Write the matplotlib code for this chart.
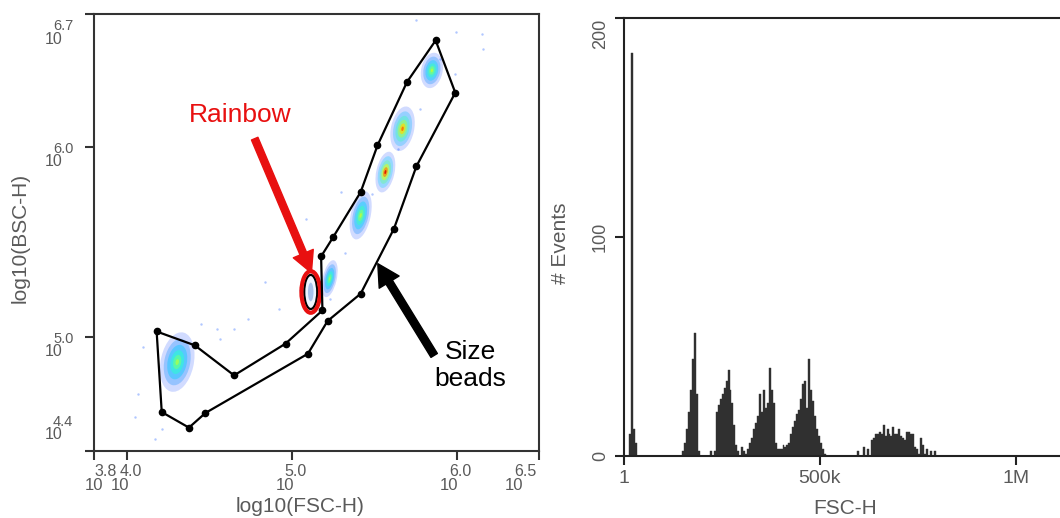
"""
Flow cytometry bead panel: BSC vs FSC gate plot and FSC-H histogram.
"""

import matplotlib
matplotlib.use("Agg")
import matplotlib.pyplot as plt
from matplotlib.patches import Ellipse, Polygon

plt.rcParams["font.family"] = ["Liberation Sans", "DejaVu Sans"]

# ── Data: left panel (log10 units) ──────────────────────────────────────────
fsc_ticks = [3.8, 4.0, 5.0, 6.0, 6.5]
bsc_ticks = [4.4, 5.0, 6.0, 6.7]

# gate polygon vertices
gate_fsc = [4.180, 4.412, 4.650, 4.962, 5.186, 5.178, 5.250, 5.418, 5.520, 5.699,
            5.873, 5.992, 5.756, 5.620, 5.418, 5.217, 5.098, 4.476, 4.376, 4.211]
gate_bsc = [5.029, 4.956, 4.798, 4.965, 5.140, 5.424, 5.524, 5.763, 6.008, 6.342,
            6.561, 6.286, 5.898, 5.570, 5.228, 5.084, 4.912, 4.600, 4.523, 4.605]

# size-bead populations: centre, spread and peak density (0-1 on jet)
bead_fsc = [4.305, 5.230, 5.418, 5.568, 5.672, 5.850]
bead_bsc = [4.868, 5.307, 5.640, 5.868, 6.096, 6.403]
bead_w = [0.20, 0.085, 0.12, 0.11, 0.14, 0.13]
bead_h = [0.32, 0.20, 0.26, 0.22, 0.24, 0.19]
bead_peak = [0.55, 0.55, 0.58, 0.92, 0.80, 0.58]

# rainbow bead population
rainbow_fsc, rainbow_bsc = 5.115, 5.237
rainbow_w, rainbow_h = 0.113, 0.219

# stray events outside the populations
stray_fsc = [4.545, 4.648, 4.564, 4.733, 4.836, 4.921, 5.085, 5.297, 5.756, 5.994,
             6.152, 6.162, 4.067, 4.048, 4.170, 4.212, 5.321, 5.485, 5.642, 5.776,
             5.897, 5.988, 5.230, 4.10, 4.45, 5.05]
stray_bsc = [5.044, 5.044, 4.991, 5.096, 5.291, 5.149, 5.623, 5.765, 6.666, 6.607,
             6.597, 6.517, 4.702, 4.581, 4.465, 4.517, 5.440, 5.755, 5.991, 6.202,
             6.465, 6.386, 5.200, 4.95, 5.07, 5.25]

# ── Data: right panel (histogram, 5k bins) ──────────────────────────────────
bin_width = 5000
fsc_xticks = [0, 500000, 1000000]
fsc_xlabels = ["1", "500k", "1M"]
events_ticks = [0, 100, 200]

peak_starts = [15000, 150000, 220000, 300000, 410000, 595000]
peak_counts = [
    [10, 184, 12, 6],
    [2, 6, 12, 20, 30, 44, 56, 28, 2],
    [2, 0, 2, 20, 23, 26, 28, 31, 34, 39, 30, 24, 14, 5, 2],
    [4, 2, 1, 3, 6, 8, 12, 15, 18, 28, 20, 30, 22, 24, 40, 30, 24, 6, 3, 3, 3, 5],
    [4, 5, 6, 10, 13, 16, 19, 21, 26, 33, 34, 22, 44, 30, 25, 18, 12, 9, 6, 3, 1],
    [2, 0, 0, 4, 0, 3, 0, 7, 8, 10, 10, 11, 10, 14, 9, 12, 10, 9, 13, 10,
     10, 12, 9, 8, 7, 11, 11, 10, 10, 4, 3, 1, 8, 5, 1, 3, 0, 2, 0, 2],
]

# ── Figure ─────────────────────────────────────────────────────────────────
W, H = 1060, 518
fig = plt.figure(figsize=(W / 100, H / 100), dpi=100)
PT = 0.72  # points per pixel
GREY = "#5a5a5a"
AX = "#333333"

ax1 = fig.add_axes([94 / W, 1 - 451 / H, 445 / W, 437 / H])
ax2 = fig.add_axes([623.5 / W, 1 - 455.7 / H, 442.5 / W, 437.4 / H])

# ── Left: gate plot ────────────────────────────────────────────────────────
ax1.set_xlim(3.8, 6.5)
ax1.set_ylim(4.4, 6.7)
for sp in ax1.spines.values():
    sp.set_color(AX)
    sp.set_linewidth(1.5)
ax1.set_xticks(fsc_ticks)
ax1.set_yticks(bsc_ticks)
ax1.tick_params(direction="out", length=6.5, width=1.5, color=AX,
                labelbottom=False, labelleft=False)

jet = plt.get_cmap("jet")
ax1.scatter(stray_fsc, stray_bsc, s=3, color="#8fb0ff", alpha=0.7, lw=0, zorder=1)

levels = [1.0, 0.78, 0.58, 0.4, 0.24, 0.1]
alphas = [0.18, 0.28, 0.4, 0.55, 0.7, 0.85]
for fx, by, w, h, pk in zip(bead_fsc, bead_bsc, bead_w, bead_h, bead_peak):
    for i, (f, a) in enumerate(zip(levels, alphas)):
        c = jet(0.18 + (pk - 0.18) * i / (len(levels) - 1))
        ax1.add_patch(Ellipse((fx, by), w * f, h * f, angle=-15,
                              facecolor=c, edgecolor="none", alpha=a, zorder=2))

# rainbow population and its gate
ax1.add_patch(Ellipse((rainbow_fsc, rainbow_bsc), rainbow_w * 0.7, rainbow_h * 0.82,
                      facecolor="#eef5ff", edgecolor="black", lw=1.6, zorder=3))
ax1.add_patch(Ellipse((rainbow_fsc, rainbow_bsc), rainbow_w * 0.3, rainbow_h * 0.45,
                      facecolor="#5f8fd8", edgecolor="none", alpha=0.5, zorder=3))
ax1.add_patch(Ellipse((rainbow_fsc, rainbow_bsc), rainbow_w, rainbow_h,
                      facecolor="none", edgecolor="#e81010", lw=3, zorder=4))

# size-bead gate
ax1.add_patch(Polygon(list(zip(gate_fsc, gate_bsc)), closed=True, fill=False,
                      edgecolor="black", lw=1.6, zorder=5))
ax1.plot(gate_fsc, gate_bsc, "o", color="black", ms=4.5, zorder=6)

# tick labels drawn as "10" with exponent beside it
x_shift = {3.8: 7, 6.5: -18}
for v in fsc_ticks:
    s = x_shift.get(v, 0)
    ax1.annotate("10", xy=(v, 0), xycoords=("data", "axes fraction"),
                 xytext=((2 + s) * PT, -34 * PT), textcoords="offset points",
                 ha="right", va="center", fontsize=12, color=GREY, annotation_clip=False)
    ax1.annotate(f"{v:.1f}", xy=(v, 0), xycoords=("data", "axes fraction"),
                 xytext=((-7 + s) * PT, -20 * PT), textcoords="offset points",
                 ha="left", va="center", fontsize=11.5, color=GREY, annotation_clip=False)
y_shift = {6.7: 10, 4.4: -31}
for v in bsc_ticks:
    s = y_shift.get(v, 0)
    ax1.annotate("10", xy=(0, v), xycoords=("axes fraction", "data"),
                 xytext=(-31 * PT, -(15 + s) * PT), textcoords="offset points",
                 ha="right", va="center", fontsize=11.5, color=GREY, annotation_clip=False)
    ax1.annotate(f"{v:.1f}", xy=(0, v), xycoords=("axes fraction", "data"),
                 xytext=(-41 * PT, -(2 + s) * PT), textcoords="offset points",
                 ha="left", va="center", fontsize=10.5, color=GREY, annotation_clip=False)

# annotations
ax1.text(4.685, 6.166, "Rainbow", color="#e81010", fontsize=19, ha="center", va="center")
ax1.annotate("", xy=(5.119, 5.338), xytext=(4.775, 6.044),
             arrowprops=dict(arrowstyle="simple,head_length=1.25,head_width=1.3,tail_width=0.42",
                             color="#e81010", mutation_scale=12, shrinkA=0, shrinkB=0),
             zorder=7)
ax1.text(6.085, 4.852, "Size\nbeads", color="black", fontsize=19, ha="center",
         va="center", linespacing=1.15)
ax1.annotate("", xy=(5.522, 5.386), xytext=(5.864, 4.903),
             arrowprops=dict(arrowstyle="simple,head_length=1.3,head_width=1.4,tail_width=0.45",
                             color="black", mutation_scale=12, shrinkA=0, shrinkB=0),
             zorder=7)

fig.text(300 / W, 1 - 506 / H, "log10(FSC-H)", ha="center", va="center",
         fontsize=15, color=GREY)
fig.text(20 / W, 1 - 238 / H, "log10(BSC-H)", ha="center", va="center",
         fontsize=15, color=GREY, rotation=90)

# ── Right: FSC-H histogram ─────────────────────────────────────────────────
for start, counts in zip(peak_starts, peak_counts):
    xs = [start + i * bin_width for i in range(len(counts))]
    ax2.bar(xs, counts, width=bin_width, align="edge", color="#303030",
            edgecolor="#303030", lw=0.3)

ax2.set_xlim(0, 1127000)
ax2.set_ylim(0, 200)
for sp in ax2.spines.values():
    sp.set_color("#222222")
    sp.set_linewidth(1.5)
ax2.set_xticks(fsc_xticks)
ax2.set_xticklabels(fsc_xlabels)
ax2.set_yticks(events_ticks)
ax2.set_yticklabels([str(t) for t in events_ticks], rotation=90, va="center")
ax2.get_yticklabels()[-1].set_va("top")
ax2.tick_params(direction="out", length=6.5, width=1.5, color="#222222",
                labelsize=13, labelcolor=GREY, pad=4)
ax2.tick_params(axis="x", labelsize=14)

fig.text(845 / W, 1 - 508 / H, "FSC-H", ha="center", va="center",
         fontsize=15, color=GREY)
fig.text(560 / W, 1 - 243 / H, "# Events", ha="center", va="center",
         fontsize=15, color=GREY, rotation=90)

fig.savefig("out.png", dpi=100)
